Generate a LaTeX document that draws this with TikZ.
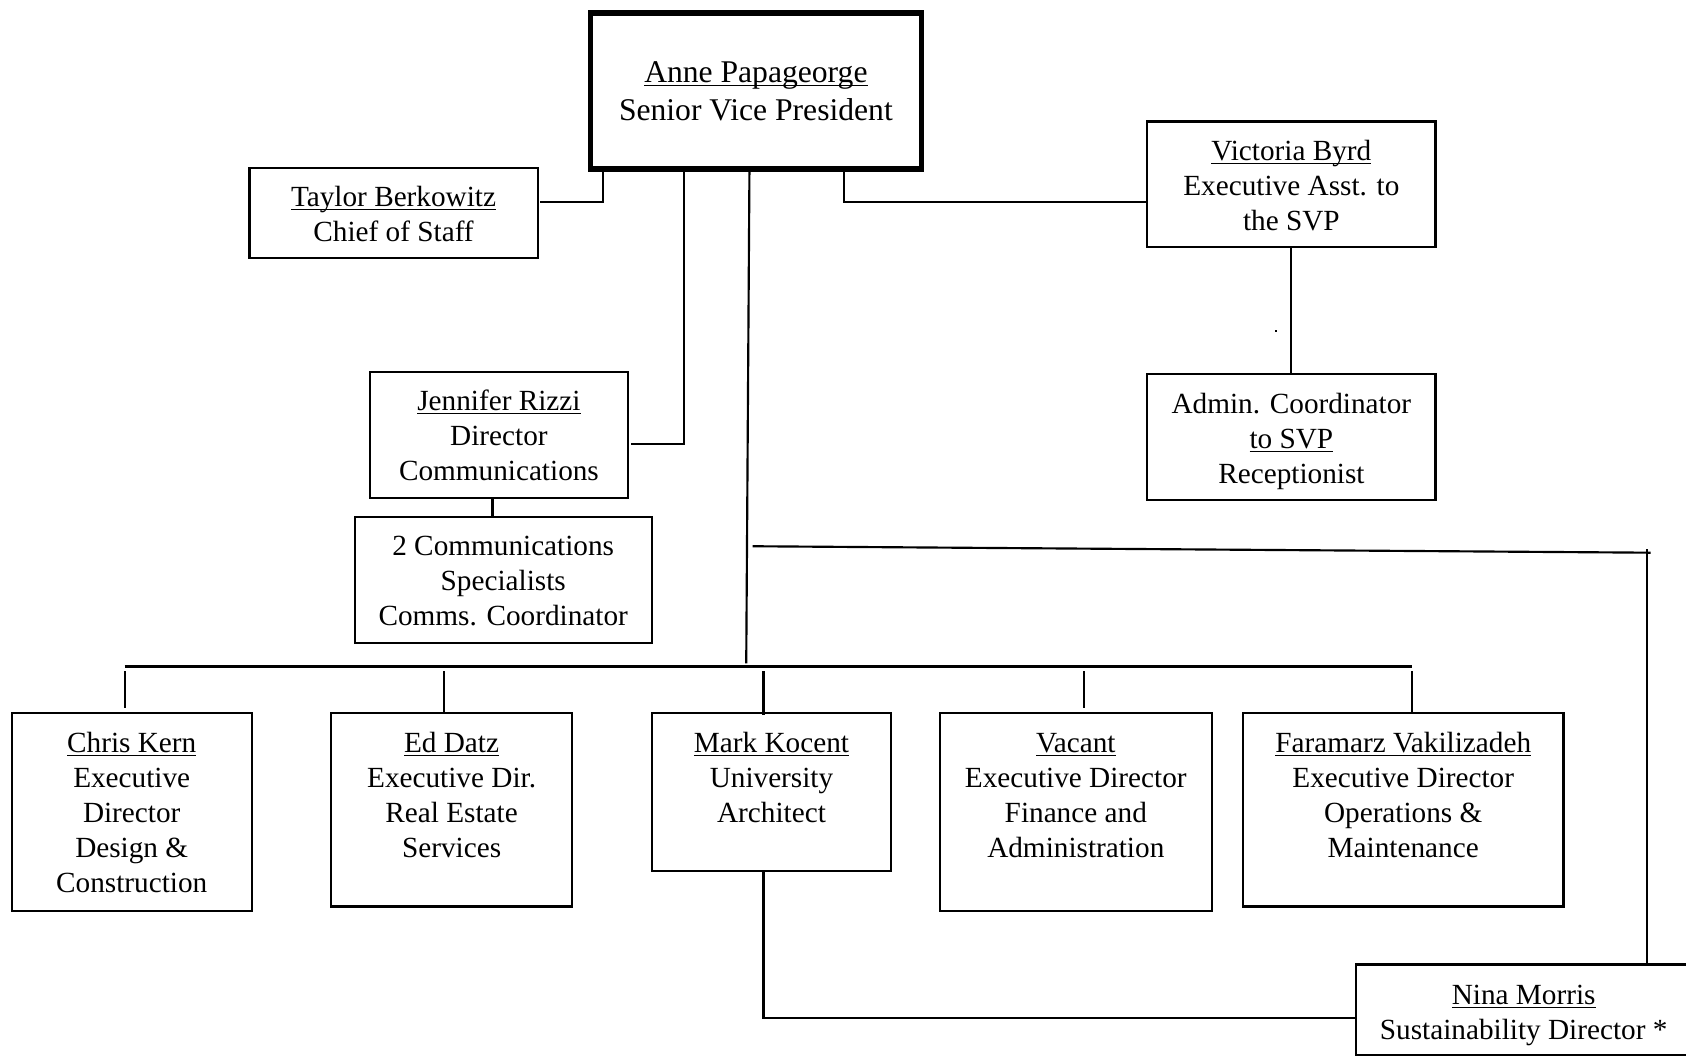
\documentclass[tikz,border=0pt]{standalone}
\usepackage{fontspec}
\setmainfont{Liberation Serif}
\newcommand{\uname}[1]{\setbox0\hbox{#1}\rlap{\rule[-1.7pt]{\wd0}{0.6pt}}\box0}
\begin{document}
\begin{tikzpicture}[x=0.5pt,y=-0.5pt,
  box/.style={draw, line width=1pt, inner sep=0pt, outer sep=0pt, anchor=north west},
  bigbox/.style={draw, line width=2.6pt, inner sep=0pt, outer sep=0pt, anchor=north west},
  txt/.style={align=center, inner sep=0pt, anchor=north,
    font=\fontsize{13.6pt}{16.25pt}\selectfont},
  bigtxt/.style={align=center, inner sep=0pt, anchor=north,
    font=\fontsize{14.7pt}{17.5pt}\selectfont},
  conn/.style={line width=1pt},
  busline/.style={line width=1.3pt}]
\useasboundingbox (0,0) rectangle (1568,982);

% boxes
\node[bigbox, minimum width=154pt, minimum height=72.5pt] (svp) at (549,12) {};
\node[box, minimum width=134pt, minimum height=42pt] (taylor) at (232,156) {};
\node[box, minimum width=134pt, minimum height=58.5pt] (victoria) at (1067,113) {};
\node[box, minimum width=134pt, minimum height=58.5pt] (admin) at (1067,348) {};
\node[box, minimum width=120pt, minimum height=58.5pt] (jennifer) at (344,346) {};
\node[box, minimum width=138pt, minimum height=58.5pt] (comms) at (330,481) {};
\node[box, minimum width=111.5pt, minimum height=92pt] (chris) at (11,663) {};
\node[box, minimum width=112pt, minimum height=90pt] (ed) at (308,663) {};
\node[box, minimum width=111.5pt, minimum height=73.5pt] (mark) at (606,663) {};
\node[box, minimum width=126.5pt, minimum height=92pt] (vacant) at (874,663) {};
\node[box, minimum width=149pt, minimum height=90pt] (faramarz) at (1156,663) {};
\node[box, minimum width=164.5pt, minimum height=42pt] (nina) at (1261,897) {};

% texts
\node[bigtxt] (svpt) at ([yshift=-22.5pt]svp.north) {\uname{Anne Papageorge}\\Senior Vice President};
\node[txt] (taylort) at ([yshift=-8.4pt]taylor.north) {\uname{Taylor Berkowitz}\\Chief of Staff};
\node[txt] (victoriat) at ([yshift=-8.4pt]victoria.north) {\uname{Victoria Byrd}\\Executive Asst. to\\the SVP};
\node[txt] (admint) at ([yshift=-8.6pt]admin.north) {Admin. Coordinator\\\uname{to SVP}\\Receptionist};
\node[txt] (jennifert) at ([yshift=-8.1pt]jennifer.north) {\uname{Jennifer Rizzi}\\Director\\Communications};
\node[txt] (commst) at ([yshift=-8.8pt]comms.north) {2 Communications\\Specialists\\Comms. Coordinator};
\node[txt] (christ) at ([yshift=-8.8pt]chris.north) {\uname{Chris Kern}\\Executive\\Director\\Design \&\\Construction};
\node[txt] (edt) at ([yshift=-8.8pt]ed.north) {\uname{Ed Datz}\\Executive Dir.\\Real Estate\\Services};
\node[txt] (markt) at ([yshift=-8.8pt]mark.north) {\uname{Mark Kocent}\\University\\Architect};
\node[txt] (vacantt) at ([yshift=-9.2pt]vacant.north) {\uname{Vacant}\\Executive Director\\Finance and\\Administration};
\node[txt] (faramarzt) at ([yshift=-8.8pt]faramarz.north) {\uname{Faramarz Vakilizadeh}\\Executive Director\\Operations \&\\Maintenance};
\node[txt] (ninat) at ([xshift=-4.25pt,yshift=-9.3pt]nina.north) {\uname{Nina Morris}\\Sustainability Director *};

% free coordinates
\coordinate (trunkend) at (694,617);
\coordinate (busL) at (116,620);
\coordinate (busR) at (1313,620);
\coordinate (sl) at (700,508);
\coordinate (sr) at (1535,514);
\coordinate (st) at (1532,511);

% connectors from SVP
\draw[conn] ([xshift=6pt]svp.south west) |- ([xshift=1pt,yshift=5pt]taylor.east);
\draw[conn] ([xshift=43.5pt]svp.south west) |- ([xshift=1.5pt,yshift=-4.25pt]jennifer.east);
\draw[conn] ([xshift=74pt]svp.south west) -- (trunkend);
\draw[conn] ([xshift=118pt]svp.south west) |- ([yshift=-8.25pt]victoria.west);

\draw[conn] (victoria.south) -- (admin.north);
\draw[conn] ([xshift=-3pt]jennifer.south) -- ([xshift=-5pt]comms.north);

% bus and drops
\draw[busline] (busL) -- (busR);
\draw[conn] ([xshift=-3.25pt,yshift=2.5pt]chris.north) -- ++(0,-34);
\draw[conn] ([xshift=-3.5pt]ed.north) -- ++(0,-39);
\draw[conn] ([xshift=-3.75pt,yshift=-1pt]mark.north) -- ++(0,-41);
\draw[conn] ([xshift=3.75pt,yshift=2.5pt]vacant.north) -- ++(0,-34);
\draw[conn] ([xshift=4pt]faramarz.north) -- ++(0,-39);

% sustainability lines
\draw[conn] (sl) -- (sr);
\draw[conn] (st) -- ([xshift=53.25pt]nina.north);
\draw[conn] ([xshift=-3.75pt]mark.south) |- ([yshift=-3.75pt]nina.west);

% stray dot
\fill (1186,307) rectangle (1188,309);
\end{tikzpicture}
\end{document}
